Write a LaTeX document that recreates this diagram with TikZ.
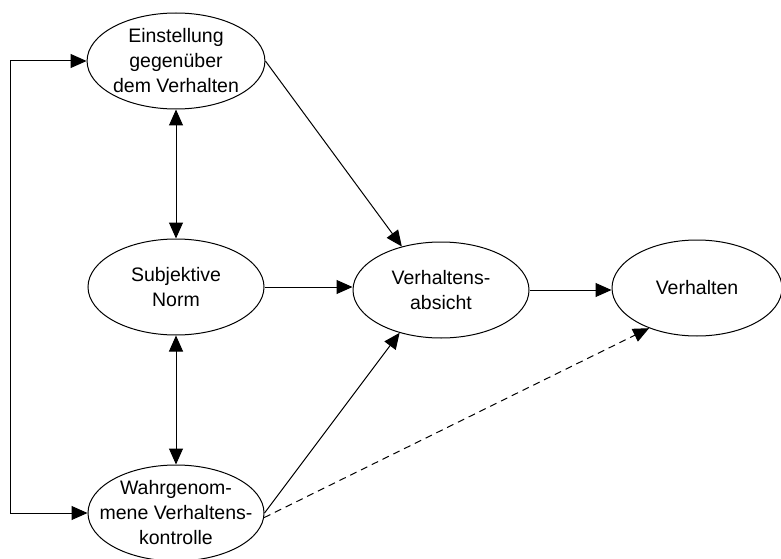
\documentclass[tikz,border=0pt]{standalone}
\usepackage{fontspec}
\setmainfont{Liberation Sans}
\usetikzlibrary{shapes.geometric,arrows.meta}
\begin{document}
\begin{tikzpicture}[x=1pt,y=-1pt,
  concept/.style={ellipse,draw,line width=1pt,minimum width=176pt,minimum height=96pt,
    inner sep=0pt,align=center,font=\fontsize{19.5}{25}\selectfont},
  link/.style={line width=1pt,-{Triangle[length=16pt,width=14pt]}},
  mutual/.style={line width=1pt,{Triangle[length=16pt,width=14pt]}-{Triangle[length=16pt,width=14pt]}},
  weak/.style={link,dash pattern=on 7pt off 5pt}]
\useasboundingbox (0,0) rectangle (781,559);
\node[concept] (e) at (176,61) {Einstellung\\gegenüber\\dem Verhalten};
\node[concept] (s) at (176,287) {Subjektive\\Norm};
\node[concept,inner xsep=-20pt] (w) at (176,513) {Wahrgenom-\\mene Verhaltens-\\kontrolle};
\node[concept] (a) at (441,290) {Verhaltens-\\absicht};
\node[concept,minimum width=170pt] (v) at (697,288) {Verhalten};
\coordinate (loop) at (10,61);
% feedback line along the left edge
\draw[mutual] (e.west) -- (loop) |- (w.west);
\draw[mutual] (e.south) -- (s.north);
\draw[mutual] (s.south) -- (w.north);
\draw[link] (e.east) -- (a.132);
\draw[link] (s.east) -- (a.west |- s.east);
\draw[link] (w.east) -- (a.226);
\draw[link] (a.east) -- (v.west |- a.east);
\draw[weak] (w.-3) -- (v.220);
\end{tikzpicture}
\end{document}
